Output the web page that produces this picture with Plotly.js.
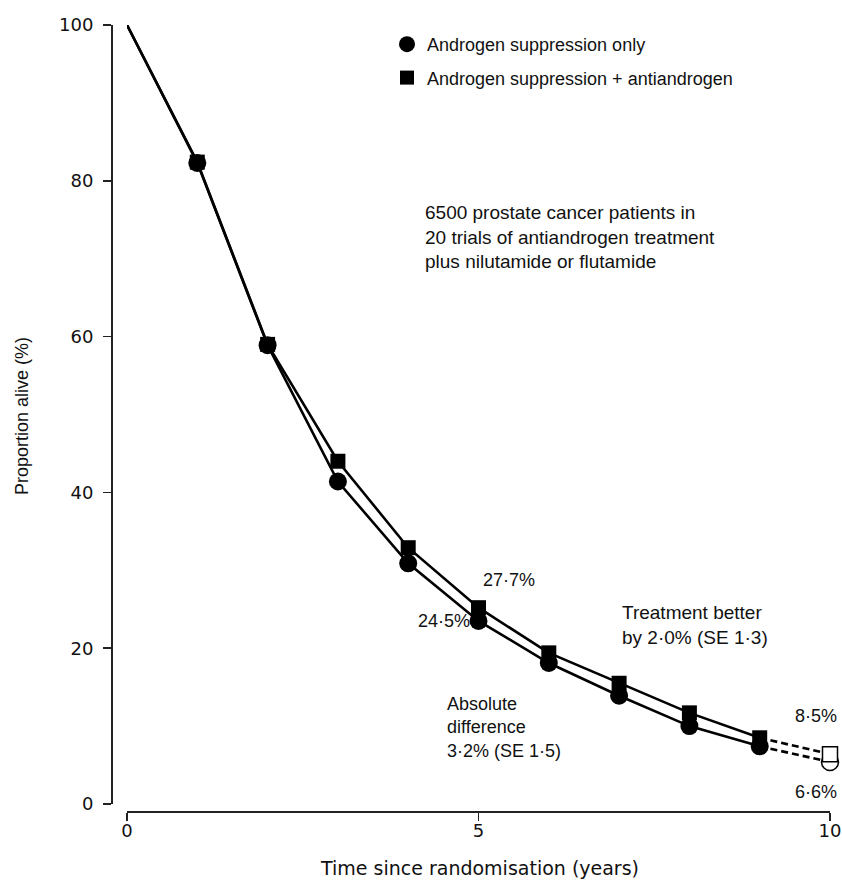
<!DOCTYPE html>
<html>
<head>
<meta charset="utf-8">
<script src="https://cdn.plot.ly/plotly-3.0.1.min.js"></script>
<style>html,body{margin:0;padding:0;background:#fff;}#chart{width:842px;height:882px;}</style>
</head>
<body>
<div id="chart"></div>
<script>
// ---- data ----
const years = [0, 1, 2, 3, 4, 5, 6, 7, 8, 9];
const suppressionOnly = [100, 82.3, 58.9, 41.4, 30.9, 23.5, 18.1, 13.9, 10.0, 7.4];
const suppressionPlusAnti = [100, 82.4, 59.0, 44.0, 32.9, 25.2, 19.4, 15.5, 11.7, 8.5];
const extYears = [9, 10];
const suppressionOnlyExt = [7.4, 5.4];
const suppressionPlusAntiExt = [8.5, 6.4];
const xTicks = [0, 5, 10];
const yTicks = [0, 20, 40, 60, 80, 100];
const seriesNames = ['Androgen suppression only', 'Androgen suppression + antiandrogen'];

// ---- layout helpers (pixel -> paper) ----
const W = 842, H = 882;
const px = v => v / W;
const py = v => 1 - v / H;
const TXT = 'Liberation Sans, Arial, sans-serif';
const TICK = 'DejaVu Sans, sans-serif';

const markerYears = years.slice(1);
const traces = [
  {x: years, y: suppressionOnly, mode: 'lines', line: {color: '#000', width: 2.6}, showlegend: false, hoverinfo: 'skip', cliponaxis: false},
  {x: years, y: suppressionPlusAnti, mode: 'lines', line: {color: '#000', width: 2.6}, showlegend: false, hoverinfo: 'skip', cliponaxis: false},
  {x: extYears, y: suppressionOnlyExt, mode: 'lines', line: {color: '#000', width: 2.6, dash: '7px,4px'}, showlegend: false, cliponaxis: false},
  {x: extYears, y: suppressionPlusAntiExt, mode: 'lines', line: {color: '#000', width: 2.6, dash: '7px,4px'}, showlegend: false, cliponaxis: false},
  {x: markerYears, y: suppressionOnly.slice(1), mode: 'markers', marker: {symbol: 'circle', size: 18, color: '#000'}, showlegend: false, cliponaxis: false},
  {x: markerYears, y: suppressionPlusAnti.slice(1), mode: 'markers', marker: {symbol: 'square', size: 15, color: '#000'}, showlegend: false, cliponaxis: false},
  {x: [extYears[1]], y: [suppressionOnlyExt[1]], mode: 'markers', marker: {symbol: 'circle', size: 17, color: '#fff', line: {color: '#000', width: 1.5}}, showlegend: false, cliponaxis: false},
  {x: [extYears[1]], y: [suppressionPlusAntiExt[1]], mode: 'markers', marker: {symbol: 'square', size: 15, color: '#fff', line: {color: '#000', width: 1.5}}, showlegend: false, cliponaxis: false},
  // legend entries
  {x: [null], y: [null], name: seriesNames[0], mode: 'markers', marker: {symbol: 'circle', size: 16, color: '#000'}, legendgroup: 'a'},
  {x: [null], y: [null], name: seriesNames[1], mode: 'markers', marker: {symbol: 'square', size: 14, color: '#000'}, legendgroup: 'b'}
];

const ann = (text, x, y, opts) => Object.assign({
  text: text, xref: 'paper', yref: 'paper', x: px(x), y: py(y),
  xanchor: 'left', yanchor: 'top', align: 'left', showarrow: false,
  font: {family: TXT, size: 18, color: '#111'}
}, opts || {});
const f19 = {font: {family: TXT, size: 19, color: '#111'}};

const layout = {
  width: W, height: H,
  margin: {l: 0, r: 0, t: 0, b: 0},
  paper_bgcolor: '#fff', plot_bgcolor: '#fff',
  showlegend: true,
  legend: {
    x: px(387), y: py(26), xanchor: 'left', yanchor: 'top',
    traceorder: 'grouped', tracegroupgap: 7,
    font: {family: TXT, size: 18, color: '#111'},
    bgcolor: 'rgba(0,0,0,0)'
  },
  xaxis: {
    domain: [px(127), px(830)], range: [0, 10],
    anchor: 'free', position: py(811),
    tickvals: xTicks, ticktext: xTicks.map(String),
    ticks: 'outside', ticklen: 8, tickwidth: 1.5, tickcolor: '#222',
    showline: true, linecolor: '#222', linewidth: 1.5,
    showgrid: false, zeroline: false,
    ticklabelstandoff: -5,
    tickfont: {family: TICK, size: 18, color: '#111'}
  },
  yaxis: {
    domain: [py(804), py(25)], range: [0, 100],
    anchor: 'free', position: px(111),
    tickvals: yTicks, ticktext: yTicks.map(String),
    ticks: 'outside', ticklen: 8, tickwidth: 1.5, tickcolor: '#222',
    showline: true, linecolor: '#222', linewidth: 1.5,
    showgrid: false, zeroline: false,
    ticklabelstandoff: 6,
    tickfont: {family: TICK, size: 18, color: '#111'}
  },
  annotations: [
    ann('6500 prostate cancer patients in<br>20 trials of antiandrogen treatment<br>plus nilutamide or flutamide', 423, 200, f19),
    ann('27·7%', 481, 568),
    ann('24·5%', 416, 609),
    ann('Treatment better<br>by 2·0% (SE 1·3)', 620, 600, f19),
    ann('Absolute<br>difference<br>3·2% (SE 1·5)', 445, 692),
    ann('8·5%', 793, 704),
    ann('6·6%', 793, 780),
    ann('Time since randomisation (years)', 479, 868, {xanchor: 'center', yanchor: 'middle', align: 'center', font: {family: TICK, size: 19, color: '#111'}}),
    ann('Proportion alive (%)', 22, 416, {xanchor: 'center', yanchor: 'middle', align: 'center', textangle: -90, font: {family: TXT, size: 18, color: '#111'}})
  ]
};

Plotly.newPlot('chart', traces, layout, {staticPlot: true, displayModeBar: false});
</script>
</body>
</html>
